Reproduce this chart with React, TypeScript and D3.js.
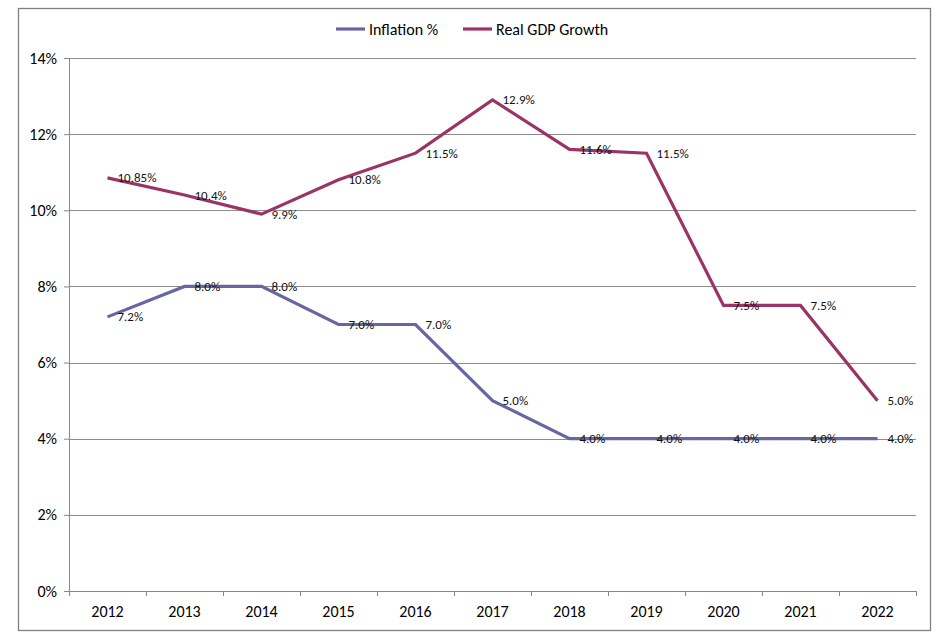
import { useEffect, useRef } from 'react';
import * as d3 from 'd3';

const years = ['2012', '2013', '2014', '2015', '2016', '2017', '2018', '2019', '2020', '2021', '2022'];
const inflation = [7.2, 8.0, 8.0, 7.0, 7.0, 5.0, 4.0, 4.0, 4.0, 4.0, 4.0];
const gdpGrowth = [10.85, 10.4, 9.9, 10.8, 11.5, 12.9, 11.6, 11.5, 7.5, 7.5, 5.0];
const inflationLabels = ['7.2%', '8.0%', '8.0%', '7.0%', '7.0%', '5.0%', '4.0%', '4.0%', '4.0%', '4.0%', '4.0%'];
const gdpLabels = ['10.85%', '10.4%', '9.9%', '10.8%', '11.5%', '12.9%', '11.6%', '11.5%', '7.5%', '7.5%', '5.0%'];
const yTicks = [0, 2, 4, 6, 8, 10, 12, 14];

const FONT = 'Carlito, "Open Sans", sans-serif';

const App = () => {
  const svgRef = useRef<SVGSVGElement>(null);

  useEffect(() => {
    const svg = d3.select(svgRef.current);
    svg.selectAll('*').remove();

    const W = 951;
    const H = 637;
    const margin = { top: 58, right: 35, bottom: 46, left: 69 };
    const width = W - margin.left - margin.right;
    const height = H - margin.top - margin.bottom;

    svg.attr('width', W).attr('height', H);

    // outer frame
    svg
      .append('rect')
      .attr('x', 18.5)
      .attr('y', 8.5)
      .attr('width', 912)
      .attr('height', 622)
      .attr('fill', 'white')
      .attr('stroke', '#808080')
      .attr('stroke-width', 1.3);

    const g = svg.append('g').attr('transform', `translate(${margin.left},${margin.top})`);

    const x = d3.scaleBand().domain(years).range([0, width]);
    const y = d3.scaleLinear().domain([0, 14]).range([height, 0]);

    // gridlines
    g.selectAll('.grid')
      .data(yTicks.filter(d => d > 0))
      .enter()
      .append('line')
      .attr('x1', 0)
      .attr('x2', width)
      .attr('y1', d => Math.round(y(d)) + 0.5)
      .attr('y2', d => Math.round(y(d)) + 0.5)
      .attr('stroke', '#8c8c8c')
      .attr('stroke-width', 1);

    // y axis
    const yAxis = g
      .append('g')
      .call(d3.axisLeft(y).tickValues(yTicks).tickSize(5).tickPadding(7).tickFormat(d => `${d}%`));
    yAxis.select('.domain').attr('stroke', '#888').attr('d', `M0.5,0V${height}`);
    yAxis.selectAll('.tick line').attr('stroke', '#888');
    yAxis.selectAll('text').attr('font-family', FONT).attr('font-size', 16).attr('fill', '#000');

    // x axis
    const xAxis = g
      .append('g')
      .attr('transform', `translate(0,${height})`)
      .call(d3.axisBottom(x).tickSize(0).tickPadding(15));
    xAxis.select('.domain').attr('stroke', '#888').attr('d', `M0,0.5H${width}`);
    xAxis.selectAll('text').attr('font-family', FONT).attr('font-size', 16).attr('fill', '#000');
    const bounds = years.map((d, i) => i * x.bandwidth()).concat([width]);
    xAxis
      .selectAll('.xtick')
      .data(bounds)
      .enter()
      .append('line')
      .attr('x1', d => Math.round(d) + 0.5)
      .attr('x2', d => Math.round(d) + 0.5)
      .attr('y1', 0)
      .attr('y2', 5)
      .attr('stroke', '#888');

    const cx = (d: string) => (x(d) as number) + x.bandwidth() / 2;

    const series = [
      { values: inflation, labels: inflationLabels, color: '#6766a3', name: 'Inflation %' },
      { values: gdpGrowth, labels: gdpLabels, color: '#9b3466', name: 'Real GDP Growth' },
    ];

    const line = d3
      .line<number>()
      .x((d, i) => cx(years[i]))
      .y(d => y(d));

    series.forEach(s => {
      g.append('path')
        .datum(s.values)
        .attr('d', line)
        .attr('fill', 'none')
        .attr('stroke', s.color)
        .attr('stroke-width', 3.2)
        .attr('stroke-linejoin', 'miter');
    });

    series.forEach(s => {
      g.selectAll(null)
        .data(s.values)
        .enter()
        .append('text')
        .attr('x', (d, i) => cx(years[i]) + 10)
        .attr('y', d => y(d) + 4.5)
        .attr('font-family', FONT)
        .attr('font-size', 13)
        .attr('fill', '#111')
        .text((d, i) => s.labels[i]);
    });

    // legend
    const legend = svg.append('g').attr('transform', 'translate(336,29)');
    const legendX = [0, 127];
    series.forEach((s, i) => {
      legend
        .append('line')
        .attr('x1', legendX[i])
        .attr('x2', legendX[i] + 29)
        .attr('y1', 0)
        .attr('y2', 0)
        .attr('stroke', s.color)
        .attr('stroke-width', 3.2);
      legend
        .append('text')
        .attr('x', legendX[i] + 33)
        .attr('y', 5.5)
        .attr('font-family', FONT)
        .attr('font-size', 16)
        .attr('fill', '#000')
        .text(s.name);
    });
  }, []);

  return <svg ref={svgRef} style={{ position: 'absolute', left: 0, top: 0 }}></svg>;
};

export default App;
